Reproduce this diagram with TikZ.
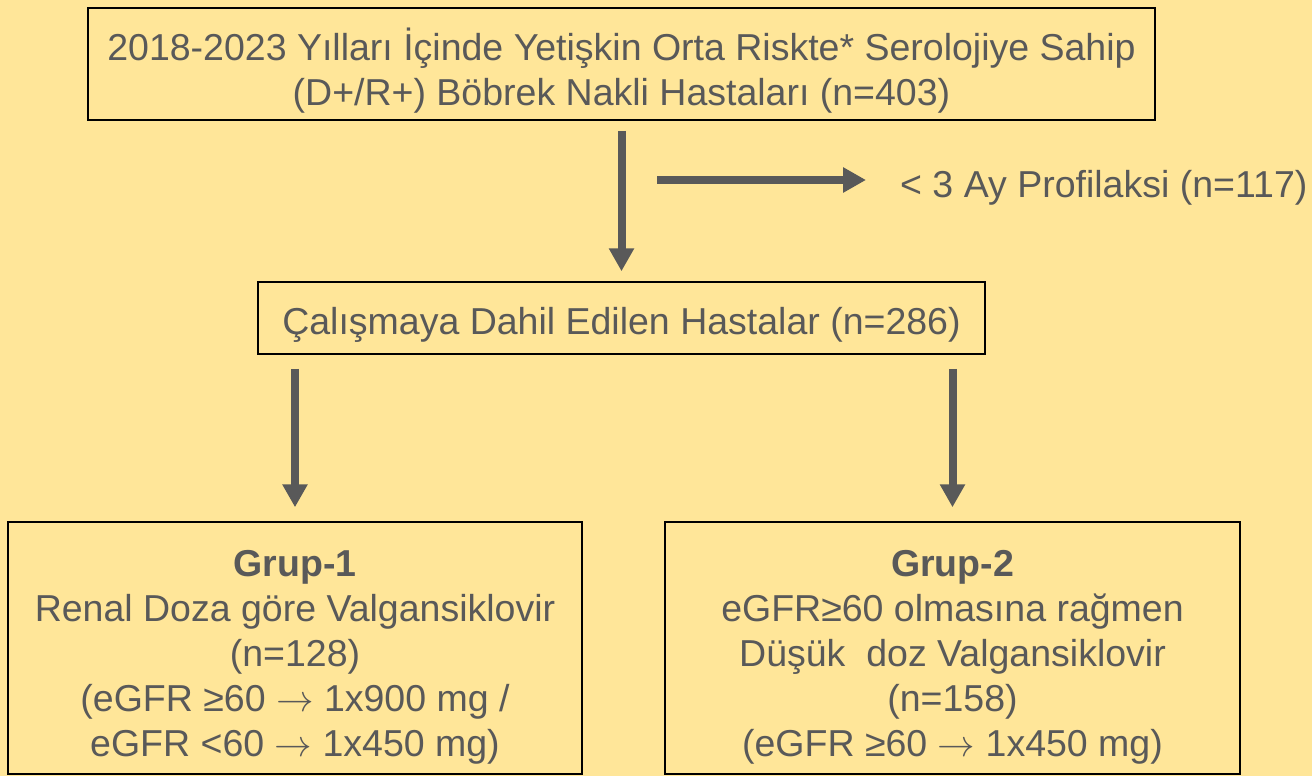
\RequirePackage{fix-cm}
\documentclass[tikz,border=0pt]{standalone}
\usepackage{fontspec}
\setmainfont{Liberation Sans}
\usepackage{tikz}
\usetikzlibrary{arrows.meta}
\definecolor{zemin}{HTML}{FFE699}
\definecolor{yazi}{HTML}{595959}

\begin{document}
\begin{tikzpicture}[x=1pt, y=-1pt,
    kutu/.style={draw=black, line width=1.5pt, inner sep=0pt},
    metin/.style={align=center, text=yazi, inner sep=0pt, font=\fontsize{37.5}{45}\selectfont},
    ok/.style={-{Triangle[width=24pt,length=23pt]}, line width=8pt, draw=yazi}]
        \fill[zemin] (0,0) rectangle (1312,776);
        \useasboundingbox (0,0) rectangle (1312,776);
        % kutular
        \node[kutu, minimum width=1067, minimum height=112] (tum) at (621.5,64) {};
        \node[kutu, minimum width=727, minimum height=72] (dahil) at (621.5,318) {};
        \node[kutu, minimum width=574, minimum height=252] (grup1) at (295,648) {};
        \node[kutu, minimum width=575, minimum height=252] (grup2) at (952.5,648) {};
        % yazilar
        \node[metin] (tumyazi) at ([yshift=-7pt]tum.center)
            {2018-2023 Yılları İçinde Yetişkin Orta Riskte* Serolojiye Sahip\\(D+/R+) Böbrek Nakli Hastaları (n=403)};
        \node[metin] (dahilyazi) at ([yshift=-7pt]dahil.center) {Çalışmaya Dahil Edilen Hastalar (n=286)};
        \node[metin] (grup1yazi) at ([yshift=-9pt]grup1.center)
            {\textbf{Grup-1}\\Renal Doza göre Valgansiklovir\\(n=128)\\(eGFR ≥60 $\rightarrow$ 1x900 mg /\\eGFR <60 $\rightarrow$ 1x450 mg)};
        \node[metin] (grup2yazi) at ([yshift=-9pt]grup2.center)
            {\textbf{Grup-2}\\eGFR≥60 olmasına rağmen\\Düşük~ doz Valgansiklovir\\(n=158)\\(eGFR ≥60 $\rightarrow$ 1x450 mg)};
        \node[metin, anchor=west] (profil) at (900,188) {< 3 Ay Profilaksi (n=117)};
        % oklar
        \coordinate (ayrim) at (657,180);
        \draw[ok, shorten <=10pt, shorten >=10pt] (tum) -- (dahil);
        \draw[ok, shorten >=34pt] (ayrim) -- (ayrim -| profil.west);
        \draw[ok, shorten <=14pt, shorten >=14pt] (dahil.south -| grup1.north) -- (grup1.north);
        \draw[ok, shorten <=14pt, shorten >=14pt] (dahil.south -| grup2.north) -- (grup2.north);
    \end{tikzpicture}
\end{document}
